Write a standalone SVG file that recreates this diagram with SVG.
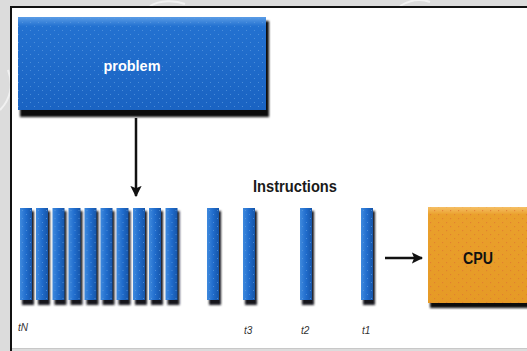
<svg xmlns="http://www.w3.org/2000/svg" width="527" height="351" viewBox="0 0 527 351">
  <defs>
    <linearGradient id="blueBox" x1="0" y1="0" x2="0" y2="1">
      <stop offset="0" stop-color="#5a9ce6"/>
      <stop offset="0.1" stop-color="#2371d0"/>
      <stop offset="1" stop-color="#1a63c2"/>
    </linearGradient>
    <linearGradient id="blueBar" x1="0" y1="0" x2="1" y2="0">
      <stop offset="0" stop-color="#3f8ade"/>
      <stop offset="0.5" stop-color="#206ccc"/>
      <stop offset="1" stop-color="#1655a8"/>
    </linearGradient>
    <linearGradient id="orangeBox" x1="0" y1="0" x2="0" y2="1">
      <stop offset="0" stop-color="#f6c066"/>
      <stop offset="0.08" stop-color="#eaa02c"/>
      <stop offset="1" stop-color="#e69a26"/>
    </linearGradient>
    <pattern id="dotsBlue" width="8" height="8" patternUnits="userSpaceOnUse">
      <rect x="2" y="2" width="1" height="1" fill="#5d9be0" opacity="0.7"/>
      <rect x="6" y="6" width="1" height="1" fill="#5d9be0" opacity="0.7"/>
    </pattern>
    <pattern id="dotsOrange" width="8" height="8" patternUnits="userSpaceOnUse">
      <rect x="2" y="2" width="1.2" height="1.2" fill="#e07a30" opacity="0.8"/>
      <rect x="6" y="6" width="1.2" height="1.2" fill="#e07a30" opacity="0.8"/>
    </pattern>
    <filter id="soft" x="-20%" y="-20%" width="140%" height="140%">
      <feGaussianBlur stdDeviation="1"/>
    </filter>
    <marker id="head" viewBox="0 0 10 10" refX="9" refY="5" markerWidth="4.5" markerHeight="4.5" orient="auto">
      <path d="M0,0 L10,5 L0,10 L2,5 z" fill="#111"/>
    </marker>
    <g id="bar">
      <rect x="2" y="3" width="12" height="94" fill="#15151f" filter="url(#soft)"/>
      <rect x="0" y="0" width="12" height="92" fill="url(#blueBar)"/>
      <rect x="0" y="0" width="12" height="92" fill="url(#dotsBlue)"/>
    </g>
  </defs>
  <style>
    .label { font-family: "Liberation Sans", Arial, sans-serif; font-weight: bold; }
    .tick { font-family: "Liberation Sans", Arial, sans-serif; font-style: italic; font-size: 10px; fill: #333; }
    .wire { stroke: #111; stroke-width: 2.5; fill: none; }
  </style>

  <!-- page margin and faint crest lines -->
  <rect width="527" height="351" fill="#dcdcdc"/>
  <g fill="none" stroke="#f4f4f4" stroke-width="2" opacity="0.9">
    <path d="M0,110 C10,100 14,85 8,70"/>
    <path d="M150,6 C160,0 175,0 185,4"/>
    <path d="M400,6 C410,0 420,-2 430,2"/>
  </g>

  <!-- white panel -->
  <rect x="11" y="7" width="520" height="360" fill="#ffffff" stroke="#111" stroke-width="2"/>
  <rect x="12" y="348.5" width="515" height="3" fill="#dcdcdc"/>
  <line x1="12" y1="348.5" x2="527" y2="348.5" stroke="#c8c8c8" stroke-width="1"/>

  <!-- problem -->
  <g id="problem">
    <rect x="20" y="21" width="249" height="96" fill="#111" filter="url(#soft)"/>
    <rect x="18" y="17" width="248" height="93" fill="url(#blueBox)"/>
    <rect x="18" y="17" width="248" height="93" fill="url(#dotsBlue)"/>
    <text class="label" x="132" y="71" font-size="15" fill="#ffffff" text-anchor="middle" textLength="57" lengthAdjust="spacingAndGlyphs">problem</text>
  </g>

  <!-- instruction stream -->
  <g id="instructions">
    <use href="#bar" x="20" y="208"/>
    <use href="#bar" x="36" y="208"/>
    <use href="#bar" x="52.5" y="208"/>
    <use href="#bar" x="68.5" y="208"/>
    <use href="#bar" x="84.5" y="208"/>
    <use href="#bar" x="100.5" y="208"/>
    <use href="#bar" x="116.5" y="208"/>
    <use href="#bar" x="133" y="208"/>
    <use href="#bar" x="149" y="208"/>
    <use href="#bar" x="165.5" y="208"/>
    <use href="#bar" x="207" y="208"/>
    <use href="#bar" x="243" y="208"/>
    <use href="#bar" x="300" y="208"/>
    <use href="#bar" x="361" y="208"/>
    <text class="label" x="295" y="192" font-size="17" fill="#1a1a1a" text-anchor="middle" textLength="84" lengthAdjust="spacingAndGlyphs">Instructions</text>
    <text class="tick" x="18" y="331">tN</text>
    <text class="tick" x="244" y="334">t3</text>
    <text class="tick" x="301" y="334">t2</text>
    <text class="tick" x="362" y="334">t1</text>
  </g>

  <!-- CPU -->
  <g id="cpu">
    <rect x="430" y="211" width="110" height="97" fill="#111" filter="url(#soft)"/>
    <rect x="428" y="207" width="110" height="96" fill="url(#orangeBox)"/>
    <rect x="428" y="207" width="110" height="96" fill="url(#dotsOrange)"/>
    <text class="label" x="478" y="264" font-size="16" fill="#111" text-anchor="middle" textLength="30" lengthAdjust="spacingAndGlyphs">CPU</text>
  </g>

  <!-- connectors -->
  <g id="connectors">
    <line class="wire" x1="136" y1="118" x2="136" y2="196" marker-end="url(#head)"/>
    <line class="wire" x1="385" y1="258" x2="422" y2="258" marker-end="url(#head)"/>
  </g>
</svg>
